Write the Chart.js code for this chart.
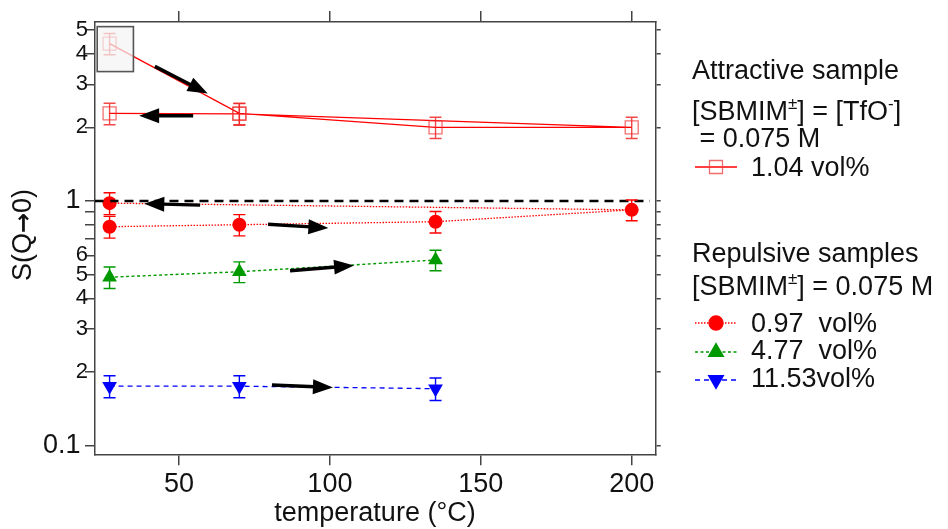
<!DOCTYPE html>
<html>
<head>
<meta charset="utf-8">
<script src="https://cdn.jsdelivr.net/npm/chart.js@4.4.0/dist/chart.umd.min.js"></script>
<style>
  html, body { margin: 0; padding: 0; background: #fff; }
</style>
</head>
<body>
<canvas id="chart" width="948" height="529"></canvas>
<script>
// data
const attractTemp = [27, 70, 135, 200, 70, 27];
const attractS = [4.40, 2.28, 2.00, 2.00, 2.27, 2.28];
const attractErr = [0.44, 0.23, 0.20, 0.20, 0.23, 0.23];

const rep097Temp = [27, 70, 135, 200, 27];
const rep097S = [0.785, 0.80, 0.823, 0.92, 0.98];
const rep097Err = [0.08, 0.08, 0.083, 0.09, 0.10];

const rep477Temp = [27, 70, 135];
const rep477S = [0.488, 0.514, 0.574];
const rep477Err = [0.049, 0.05, 0.055];

const rep1153Temp = [27, 70, 135];
const rep1153S = [0.175, 0.175, 0.171];
const rep1153Err = [0.018, 0.018, 0.018];

const refLineTemp = [22, 206];
const refLineS = [1, 1];

// annotation arrows (tail -> head), in data units
const arrowFromT = [42, 54.7, 57, 79.5, 86.8, 80.8];
const arrowFromS = [3.55, 2.23, 0.962, 0.803, 0.519, 0.177];
const arrowToT = [59.5, 36.8, 38.5, 99.5, 108, 101];
const arrowToS = [2.75, 2.23, 0.975, 0.776, 0.545, 0.173];

// grey box over the first point
const boxT = [22.9, 34.9];
const boxS = [3.38, 5.16];

const xTickValues = [50, 100, 150, 200];
const yTickValues = [0.1, 0.2, 0.3, 0.4, 0.5, 0.6, 0.7, 0.8, 0.9, 1, 2, 3, 4, 5];
const yTickLabels = ['0.1 ', '2', '3', '4', '5', '6', '', '', '', '1 ', '2', '3', '4', '5'];

const X_MIN = 22.17, X_MAX = 207.95;
const Y_MIN = 0.0922, Y_MAX = 5.39;

const FONT = '"Liberation Sans", Arial, Helvetica, sans-serif';
const RED = '#ff0000', GREEN = '#009a00', BLUE = '#0000ff';

function pts(xs, ys) {
  return xs.map((x, i) => ({ x: x, y: ys[i] }));
}

function drawArrow(ctx, x0, y0, x1, y1) {
  const ang = Math.atan2(y1 - y0, x1 - x0);
  const len = 20, hw = 7.5;
  const bx = x1 - len * Math.cos(ang), by = y1 - len * Math.sin(ang);
  ctx.beginPath();
  ctx.moveTo(x0, y0);
  ctx.lineTo(bx + 2 * Math.cos(ang), by + 2 * Math.sin(ang));
  ctx.stroke();
  ctx.beginPath();
  ctx.moveTo(x1, y1);
  ctx.lineTo(bx + hw * Math.sin(ang), by - hw * Math.cos(ang));
  ctx.lineTo(bx - hw * Math.sin(ang), by + hw * Math.cos(ang));
  ctx.closePath();
  ctx.fill();
}

// text pieces: [text, superscript?, font override]
function drawRich(ctx, parts, x, y) {
  parts.forEach(function(p) {
    if (p[1]) {
      ctx.font = '17px ' + FONT;
      ctx.fillText(p[0], x, y - 11);
    } else {
      ctx.font = p[2] || ('27px ' + FONT);
      ctx.fillText(p[0], x, y);
    }
    x += ctx.measureText(p[0]).width;
  });
  return x;
}

function richWidth(ctx, parts) {
  let w = 0;
  parts.forEach(function(p) {
    ctx.font = p[1] ? '17px ' + FONT : (p[2] || ('27px ' + FONT));
    w += ctx.measureText(p[0]).width;
  });
  return w;
}

function legendMarker(ctx, y, color, dash, lw, style, rot, fill, border) {
  ctx.save();
  ctx.strokeStyle = color;
  ctx.lineWidth = lw;
  ctx.setLineDash(dash);
  ctx.beginPath();
  ctx.moveTo(695, y);
  ctx.lineTo(737, y);
  ctx.stroke();
  ctx.setLineDash([]);
  ctx.fillStyle = fill;
  ctx.strokeStyle = border;
  ctx.lineWidth = 1.3;
  Chart.helpers.drawPoint(ctx, { pointStyle: style, radius: style === 'circle' ? 7 : (style === 'rect' ? 9.2 : 8.5), rotation: rot, borderWidth: 1.3 }, 716, y);
  ctx.restore();
}

const extras = {
  id: 'extras',
  afterDatasetsDraw(chart) {
    const ctx = chart.ctx;
    const xs = chart.scales.x, ys = chart.scales.y;
    const area = chart.chartArea;

    // error bars
    ctx.save();
    ctx.beginPath();
    ctx.rect(area.left, area.top, area.right - area.left, area.bottom - area.top);
    ctx.clip();
    chart.data.datasets.forEach(function(ds, i) {
      if (!ds.errors) return;
      const meta = chart.getDatasetMeta(i);
      ctx.strokeStyle = ds.errColor;
      ctx.lineWidth = 1.4;
      ds.data.forEach(function(p, j) {
        const px = meta.data[j].x;
        const top = ys.getPixelForValue(p.y + ds.errors[j]);
        const bot = ys.getPixelForValue(p.y - ds.errors[j]);
        ctx.beginPath();
        ctx.moveTo(px, top); ctx.lineTo(px, bot);
        ctx.moveTo(px - 6, top); ctx.lineTo(px + 6, top);
        ctx.moveTo(px - 6, bot); ctx.lineTo(px + 6, bot);
        ctx.stroke();
      });
    });

    // grey highlight box
    const bx0 = xs.getPixelForValue(boxT[0]), bx1 = xs.getPixelForValue(boxT[1]);
    const by0 = ys.getPixelForValue(boxS[1]), by1 = ys.getPixelForValue(boxS[0]);
    ctx.fillStyle = 'rgba(244,244,244,0.72)';
    ctx.fillRect(bx0, by0, bx1 - bx0, by1 - by0);
    ctx.strokeStyle = '#555';
    ctx.lineWidth = 1.6;
    ctx.strokeRect(bx0, by0, bx1 - bx0, by1 - by0);

    // arrows
    ctx.strokeStyle = '#000';
    ctx.fillStyle = '#000';
    ctx.lineWidth = 3.4;
    for (let i = 0; i < arrowFromT.length; i++) {
      drawArrow(ctx,
        xs.getPixelForValue(arrowFromT[i]), ys.getPixelForValue(arrowFromS[i]),
        xs.getPixelForValue(arrowToT[i]), ys.getPixelForValue(arrowToS[i]));
    }
    ctx.restore();
  },
  afterDraw(chart) {
    const ctx = chart.ctx;
    ctx.save();
    ctx.fillStyle = '#111';
    ctx.textBaseline = 'alphabetic';

    // axis titles
    ctx.font = '27px ' + FONT;
    ctx.textAlign = 'center';
    ctx.fillText('temperature (\u00B0C)', 375, 521);
    ctx.textAlign = 'left';
    const yTitle = [['S(Q'], ['\u2192', false, 'bold 24px "DejaVu Sans", sans-serif'], ['0)']];
    ctx.save();
    ctx.translate(31, 235);
    ctx.rotate(-Math.PI / 2);
    drawRich(ctx, yTitle, -richWidth(ctx, yTitle) / 2, 0);
    ctx.restore();

    // legend
    ctx.font = '27px ' + FONT;
    ctx.fillText('Attractive sample', 692, 79);
    drawRich(ctx, [['[SBMIM'], ['\u00B1', true], ['] = [TfO'], ['-', true], [']']], 692, 120);
    ctx.font = '27px ' + FONT;
    ctx.fillText(' = 0.075 M', 692, 147);
    ctx.fillText('1.04 vol%', 751, 176);
    legendMarker(ctx, 167, RED, [], 1.5, 'rect', 0, 'rgba(0,0,0,0)', 'rgba(235,60,60,0.75)');

    ctx.fillStyle = '#111';
    ctx.font = '27px ' + FONT;
    ctx.fillText('Repulsive samples', 692, 262);
    drawRich(ctx, [['[SBMIM'], ['\u00B1', true], ['] = 0.075 M']], 692, 295);
    ctx.font = '27px ' + FONT;
    ctx.fillText('0.97  vol%', 751, 332);
    ctx.fillText('4.77  vol%', 751, 359);
    ctx.fillText('11.53vol%', 751, 387);
    legendMarker(ctx, 323, RED, [1.5, 1.5], 1.3, 'circle', 0, RED, RED);
    legendMarker(ctx, 352, GREEN, [3, 2.5], 1.4, 'triangle', 0, GREEN, GREEN);
    legendMarker(ctx, 380, BLUE, [5, 4], 1.3, 'triangle', 180, BLUE, BLUE);
    ctx.restore();
  }
};

const axisGrid = { drawOnChartArea: false, drawTicks: true, color: '#444', lineWidth: 1.5 };
const axisBorder = { display: true, color: '#444', width: 1.5 };

new Chart(document.getElementById('chart'), {
  type: 'scatter',
  data: {
    datasets: [
      {
        label: 'ref',
        data: pts(refLineTemp, refLineS),
        showLine: true,
        borderColor: '#000',
        borderWidth: 2.6,
        borderDash: [9, 6],
        pointRadius: 0,
        order: 0
      },
      {
        label: '1.04 vol%',
        data: pts(attractTemp, attractS),
        errors: attractErr,
        errColor: 'rgba(240,40,40,0.85)',
        showLine: true,
        borderColor: RED,
        borderWidth: 1.4,
        pointStyle: 'rect',
        pointRadius: 9.2,
        pointBorderWidth: 1.3,
        pointBorderColor: 'rgba(240,50,50,0.7)',
        pointBackgroundColor: 'rgba(0,0,0,0)',
        order: 1
      },
      {
        label: '0.97 vol%',
        data: pts(rep097Temp, rep097S),
        errors: rep097Err,
        errColor: RED,
        showLine: true,
        borderColor: RED,
        borderWidth: 1.3,
        borderDash: [1.5, 1.5],
        pointStyle: 'circle',
        pointRadius: 7,
        pointBorderWidth: 0,
        pointBackgroundColor: RED,
        order: 2
      },
      {
        label: '4.77 vol%',
        data: pts(rep477Temp, rep477S),
        errors: rep477Err,
        errColor: GREEN,
        showLine: true,
        borderColor: GREEN,
        borderWidth: 1.4,
        borderDash: [3, 2.5],
        pointStyle: 'triangle',
        pointRadius: 8.5,
        pointBorderWidth: 0,
        pointBackgroundColor: GREEN,
        order: 3
      },
      {
        label: '11.53vol%',
        data: pts(rep1153Temp, rep1153S),
        errors: rep1153Err,
        errColor: BLUE,
        showLine: true,
        borderColor: BLUE,
        borderWidth: 1.3,
        borderDash: [5, 4],
        pointStyle: 'triangle',
        pointRotation: 180,
        pointRadius: 8.5,
        pointBorderWidth: 0,
        pointBackgroundColor: BLUE,
        order: 4
      }
    ]
  },
  options: {
    responsive: false,
    animation: false,
    layout: { padding: 0 },
    plugins: { legend: { display: false }, tooltip: { enabled: false } },
    scales: {
      x: {
        type: 'linear', position: 'bottom', min: X_MIN, max: X_MAX,
        afterBuildTicks: s => { s.ticks = xTickValues.map(v => ({ value: v })); },
        afterFit: s => { s.height = 74.7; },
        ticks: { padding: 3, color: '#111', autoSkip: false, maxRotation: 0, font: { family: FONT, size: 27 }, callback: v => String(v) },
        grid: Object.assign({ tickLength: 11 }, axisGrid),
        border: axisBorder
      },
      x2: {
        type: 'linear', position: 'top', min: X_MIN, max: X_MAX,
        afterBuildTicks: s => { s.ticks = xTickValues.map(v => ({ value: v })); },
        afterFit: s => { s.height = 22; },
        ticks: { display: false },
        grid: Object.assign({ tickLength: 11 }, axisGrid),
        border: axisBorder
      },
      y: {
        type: 'logarithmic', position: 'left', min: Y_MIN, max: Y_MAX,
        afterBuildTicks: s => { s.ticks = yTickValues.map(v => ({ value: v })); },
        afterFit: s => { s.width = 95; },
        ticks: {
          padding: -3, color: '#111', autoSkip: false,
          font: c => ({ family: FONT, size: (c.tick && (c.tick.value === 1 || c.tick.value === 0.1)) ? 27 : 22 }),
          callback: (v, i) => yTickLabels[i]
        },
        grid: Object.assign({ tickLength: 10 }, axisGrid),
        border: axisBorder
      },
      y2: {
        type: 'logarithmic', position: 'right', min: Y_MIN, max: Y_MAX,
        afterBuildTicks: s => { s.ticks = yTickValues.map(v => ({ value: v })); },
        afterFit: s => { s.width = 292.3; },
        ticks: { display: false },
        grid: Object.assign({ tickLength: 5 }, axisGrid),
        border: axisBorder
      }
    }
  },
  plugins: [extras]
});
</script>
</body>
</html>
